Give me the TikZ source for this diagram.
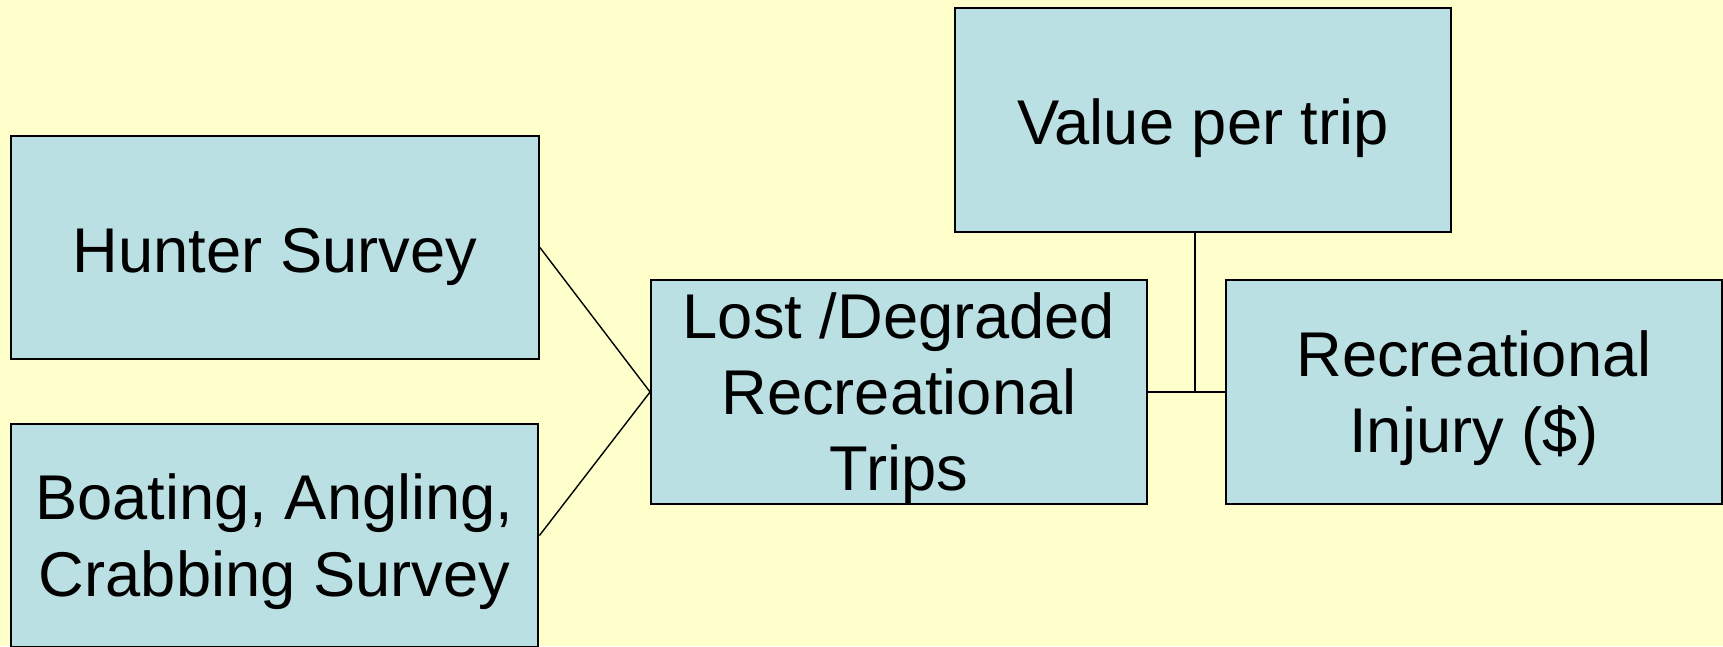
\documentclass[tikz,border=0pt]{standalone}
\usepackage{fontspec}
\setmainfont{Liberation Sans}
\usepackage{tikz}
\usetikzlibrary{calc}
\definecolor{bgyellow}{RGB}{255,255,204}
\definecolor{boxblue}{RGB}{187,224,227}
\tikzstyle{stage} = [rectangle,fill=boxblue,draw=black,line width=1.1pt,
inner sep=0pt, minimum height=4.47cm, minimum width=9.92cm,
align=center, font=\fontsize{36}{43.5}\selectfont,
execute at begin node={\rule{0pt}{35.5pt}}]
% lift the top of a several-line text so it sits a little lower
\tikzstyle{stacked} = [execute at begin node={\rule{0pt}{#1}}]
\tikzstyle{survey} = [stage, minimum width=10.56cm]
\tikzstyle{link} = [draw=black, line width=0.8pt]
\newcommand{\linkedge}[2]{ %
  % Join every node in #1 to the node #2.
  \foreach \x in {#1} { %
    \path (\x) edge[link] (#2) ; %
  } ;
}

\begin{document}
\begin{tikzpicture}[x=0.02cm,y=-0.02cm]

	\fill[bgyellow] (0,0) rectangle (1723,646);
	\useasboundingbox (0,0) rectangle (1723,646);

	\node[survey] (hunter)  at (275,247.5) {Hunter Survey} ;
	\node[survey,stacked=76.5pt] (boating) at (274.5,535.5) {Boating, Angling,\\Crabbing Survey} ;
	\node[stage,stacked=120pt]   (lost)    at (899,392)   {Lost /Degraded\\Recreational\\Trips} ;
	\node[stage]  (value)   at (1203,120)  {Value per trip} ;
	\node[stage,stacked=76.5pt]  (injury)  at (1474,392)  {Recreational\\Injury (\$)} ;

	\coordinate (join) at (1195,392) ;

	\linkedge {hunter.east, boating.east} {lost.west};
	\linkedge {lost.east} {injury.west};
	\draw[link] (value.south -| join) -- (join);

\end{tikzpicture}
\end{document}
